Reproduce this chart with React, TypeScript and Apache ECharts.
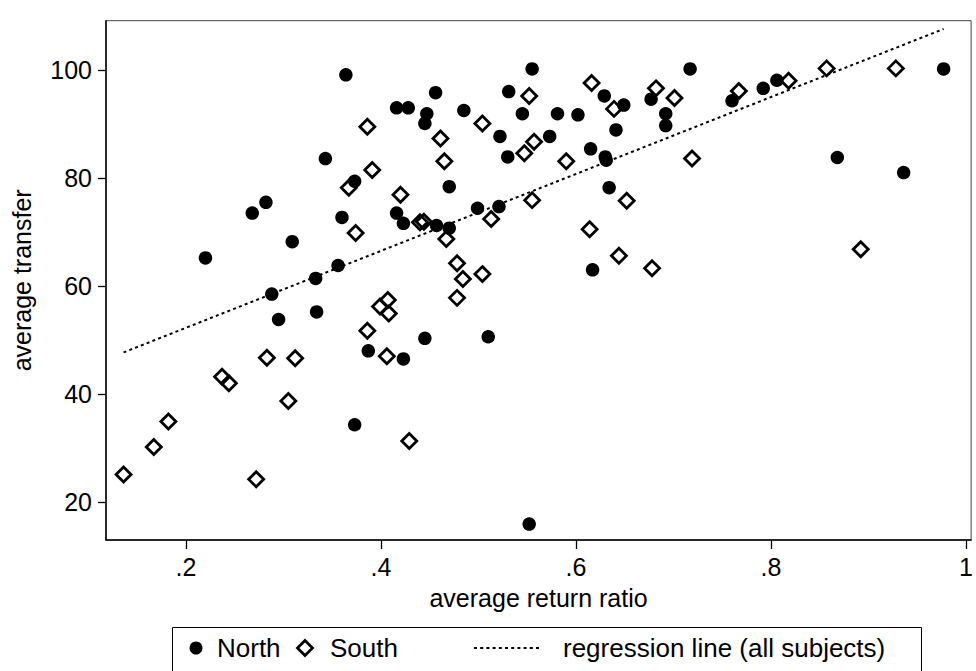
import React, { useEffect, useRef } from "react";
import * as echarts from "echarts";

const FONT = "'Liberation Sans', Arial, Helvetica, sans-serif";

const xTicks = [0.2, 0.4, 0.6, 0.8, 1];
const yTicks = [20, 40, 60, 80, 100];

const northData: number[][] = [
  [0.364, 99.1], [0.343, 83.6], [0.282, 75.5], [0.268, 73.5], [0.22, 65.2],
  [0.309, 68.2], [0.333, 61.4], [0.356, 63.8], [0.36, 72.7], [0.373, 79.4],
  [0.416, 93.0], [0.428, 93.0], [0.447, 91.9], [0.445, 90.1], [0.456, 95.8],
  [0.47, 78.4], [0.416, 73.5], [0.423, 71.6], [0.457, 71.2], [0.47, 70.7],
  [0.499, 74.4], [0.521, 74.7], [0.485, 92.5], [0.522, 87.7], [0.53, 83.9],
  [0.531, 96.0], [0.545, 91.9], [0.555, 100.2], [0.581, 91.9], [0.602, 91.7],
  [0.573, 87.7], [0.629, 95.2], [0.649, 93.5], [0.641, 88.9], [0.615, 85.4],
  [0.63, 83.9], [0.631, 83.3], [0.634, 78.2], [0.617, 63.0], [0.717, 100.2],
  [0.677, 94.6], [0.692, 91.9], [0.692, 89.7], [0.76, 94.3], [0.792, 96.6],
  [0.806, 98.1], [0.977, 100.2], [0.868, 83.8], [0.936, 81.0], [0.288, 58.5],
  [0.295, 53.8], [0.334, 55.2], [0.373, 34.3], [0.387, 48.0], [0.423, 46.5],
  [0.445, 50.3], [0.51, 50.6], [0.552, 15.9],
];

const southData: number[][] = [
  [0.386, 89.5], [0.391, 81.5], [0.374, 69.8], [0.367, 78.2], [0.461, 87.3],
  [0.465, 83.1], [0.42, 76.9], [0.44, 71.8], [0.444, 71.9], [0.467, 68.7],
  [0.478, 64.2], [0.484, 61.3], [0.504, 62.2], [0.513, 72.4], [0.555, 75.9],
  [0.504, 90.1], [0.547, 84.6], [0.552, 95.2], [0.557, 86.7], [0.59, 83.1],
  [0.616, 97.6], [0.639, 92.8], [0.652, 75.8], [0.614, 70.5], [0.644, 65.6],
  [0.678, 63.3], [0.719, 83.6], [0.682, 96.6], [0.701, 94.8], [0.767, 96.1],
  [0.818, 98.0], [0.857, 100.3], [0.928, 100.3], [0.892, 66.8], [0.283, 46.7],
  [0.312, 46.6], [0.237, 43.2], [0.244, 42.0], [0.305, 38.7], [0.182, 34.9],
  [0.167, 30.2], [0.136, 25.1], [0.272, 24.2], [0.429, 31.3], [0.386, 51.7],
  [0.406, 47.0], [0.399, 56.2], [0.407, 57.4], [0.408, 54.9], [0.478, 57.8],
];

const regressionLine: number[][] = [
  [0.136, 47.7],
  [0.977, 107.6],
];

const legendLabels = ["North", "South", "regression line (all subjects)"];

export default function App() {
  const ref = useRef<HTMLDivElement>(null);

  useEffect(() => {
    if (!ref.current) return;
    const chart = echarts.init(ref.current, undefined, { renderer: "svg" });
    const axisText = { color: "#000", fontSize: 25, fontFamily: FONT };
    const legendY = 648;
    const legendFont = `26px ${FONT}`;
    chart.setOption({
      animation: false,
      backgroundColor: "#fff",
      grid: {
        left: 106,
        top: 20.7,
        right: -1,
        bottom: 131,
        show: true,
        borderColor: "#444",
        borderWidth: 1,
      },
      xAxis: {
        type: "value",
        min: 0.118,
        max: 1.0052,
        name: "average return ratio",
        nameLocation: "middle",
        nameGap: 45,
        nameTextStyle: axisText,
        axisLine: { show: true, onZero: false, lineStyle: { color: "#000", width: 1.5 } },
        axisTick: { show: true, length: 9, customValues: xTicks, lineStyle: { color: "#000", width: 1.3 } },
        axisLabel: {
          ...axisText,
          margin: 14,
          customValues: xTicks,
          formatter: (v: number) => (v >= 1 ? "1" : String(v).replace(/^0/, "")),
        },
        splitLine: { show: false },
      },
      yAxis: {
        type: "value",
        min: 12.96,
        max: 109.13,
        name: "average transfer",
        nameLocation: "middle",
        nameGap: 72,
        nameTextStyle: axisText,
        axisLine: { show: true, onZero: false, lineStyle: { color: "#000", width: 1.5 } },
        axisTick: { show: true, length: 8, customValues: yTicks, lineStyle: { color: "#000", width: 1.3 } },
        axisLabel: { ...axisText, margin: 14, customValues: yTicks },
        splitLine: { show: false },
      },
      series: [
        {
          name: legendLabels[0],
          type: "scatter",
          data: northData,
          symbol: "circle",
          symbolSize: 13.5,
          itemStyle: { color: "#000", opacity: 1 },
        },
        {
          name: legendLabels[1],
          type: "scatter",
          data: southData,
          symbol: "diamond",
          symbolSize: 15,
          itemStyle: { color: "rgba(0,0,0,0)", borderColor: "#000", borderWidth: 2.8, opacity: 1 },
        },
        {
          name: legendLabels[2],
          type: "line",
          data: regressionLine,
          symbol: "none",
          lineStyle: { color: "#000", width: 2, type: [3, 3.2] },
        },
      ],
      graphic: [
        {
          type: "rect",
          shape: { x: 172.5, y: 627.5, width: 749, height: 60 },
          style: { fill: "none", stroke: "#000", lineWidth: 1 },
        },
        {
          type: "circle",
          shape: { cx: 196, cy: legendY, r: 6.5 },
          style: { fill: "#000" },
        },
        {
          type: "polygon",
          shape: {
            points: [
              [305, legendY - 7.5],
              [312.5, legendY],
              [305, legendY + 7.5],
              [297.5, legendY],
            ],
          },
          style: { fill: "none", stroke: "#000", lineWidth: 2.8 },
        },
        {
          type: "line",
          shape: { x1: 474, y1: legendY, x2: 541, y2: legendY },
          style: { stroke: "#000", lineWidth: 2, lineDash: [3, 3.2] },
        },
        {
          type: "text",
          x: 217,
          y: legendY,
          style: { text: legendLabels[0], fill: "#000", font: legendFont, verticalAlign: "middle" },
        },
        {
          type: "text",
          x: 330,
          y: legendY,
          style: { text: legendLabels[1], fill: "#000", font: legendFont, verticalAlign: "middle" },
        },
        {
          type: "text",
          x: 563,
          y: legendY,
          style: { text: legendLabels[2], fill: "#000", font: legendFont, verticalAlign: "middle" },
        },
      ],
    });
    return () => chart.dispose();
  }, []);

  return (
    <div
      ref={ref}
      style={{ position: "absolute", left: 0, top: 0, width: 976, height: 671, background: "#fff" }}
    />
  );
}
